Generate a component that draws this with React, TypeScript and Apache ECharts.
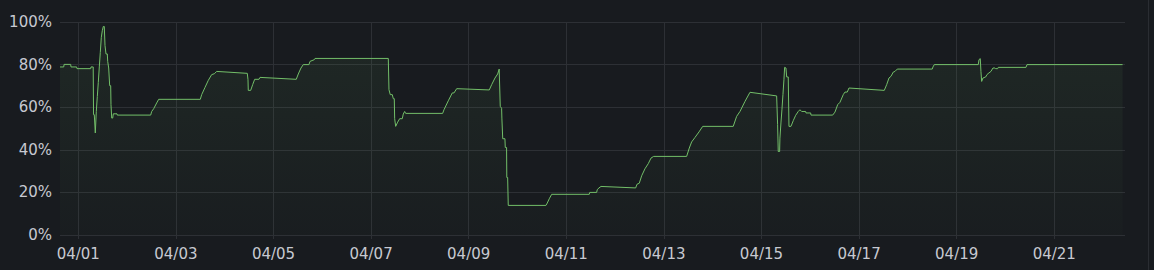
import React, { useEffect, useRef } from "react";
import * as echarts from "echarts";

const YEAR = 2024;

const times: string[] = [
  "03-31 15:00", "03-31 16:50", "03-31 17:00", "03-31 20:15", "03-31 20:25", "03-31 23:10", "03-31 23:22",
  "04-01 06:05", "04-01 06:15", "04-01 07:20", "04-01 07:30", "04-01 07:52", "04-01 08:22", "04-01 08:51",
  "04-01 09:21", "04-01 09:50", "04-01 10:20", "04-01 10:49", "04-01 11:19", "04-01 11:48", "04-01 12:18",
  "04-01 12:47", "04-01 13:08", "04-01 13:37", "04-01 14:16", "04-01 14:28", "04-01 14:57", "04-01 15:26",
  "04-01 15:56", "04-01 16:05", "04-01 16:26", "04-01 16:55", "04-01 17:13", "04-01 19:02", "04-01 19:11",
  "04-02 11:36", "04-02 12:06", "04-02 13:05", "04-02 14:33", "04-02 15:32",
  "04-03 12:00", "04-03 12:41", "04-03 14:19", "04-03 15:56", "04-03 17:36", "04-03 18:53", "04-03 20:04",
  "04-04 11:07", "04-04 11:28", "04-04 11:36", "04-04 12:47", "04-04 13:46", "04-04 14:45", "04-04 16:52", "04-04 17:22",
  "04-05 11:12", "04-05 12:12", "04-05 13:31", "04-05 14:39", "04-05 17:27", "04-05 17:57", "04-05 20:04", "04-05 20:25",
  "04-07 08:28", "04-07 08:48", "04-07 09:26", "04-07 10:26", "04-07 10:55", "04-07 11:25", "04-07 11:36",
  "04-07 12:06", "04-07 13:05", "04-07 14:04", "04-07 15:20", "04-07 15:50", "04-07 16:31", "04-07 17:00",
  "04-08 11:12", "04-08 11:51", "04-08 13:58", "04-08 15:56", "04-08 16:46", "04-08 18:06",
  "04-09 10:08", "04-09 11:19", "04-09 12:56", "04-09 14:16", "04-09 15:00", "04-09 15:32", "04-09 16:12",
  "04-09 16:20", "04-09 16:38", "04-09 16:45", "04-09 17:50", "04-09 18:00", "04-09 18:38", "04-09 18:45",
  "04-09 19:10", "04-09 19:28",
  "04-10 14:00", "04-10 14:39", "04-10 15:38", "04-10 16:49",
  "04-11 11:18", "04-11 11:33", "04-11 14:57", "04-11 15:14", "04-11 16:05", "04-11 17:04",
  "04-12 10:08", "04-12 10:46", "04-12 11:54", "04-12 13:05", "04-12 14:42", "04-12 16:20", "04-12 17:40", "04-12 18:58",
  "04-13 11:12", "04-13 12:30", "04-13 13:40", "04-13 15:18", "04-13 17:17", "04-13 19:06",
  "04-14 10:07", "04-14 11:48", "04-14 13:26", "04-14 15:53", "04-14 18:21",
  "04-15 07:28", "04-15 07:57", "04-15 08:15", "04-15 08:56", "04-15 09:05", "04-15 09:35", "04-15 10:04",
  "04-15 10:34", "04-15 11:03", "04-15 11:24", "04-15 12:03", "04-15 12:24", "04-15 13:11", "04-15 13:32",
  "04-15 14:31", "04-15 15:39", "04-15 16:50", "04-15 18:06", "04-15 18:56", "04-15 19:46", "04-15 21:44", "04-15 21:53",
  "04-16 00:12", "04-16 00:21", "04-16 11:01", "04-16 12:09", "04-16 13:29", "04-16 14:37", "04-16 16:14",
  "04-16 17:04", "04-16 18:12", "04-16 19:02",
  "04-17 12:24", "04-17 13:35", "04-17 14:43", "04-17 15:42", "04-17 16:50", "04-17 17:40", "04-17 18:48",
  "04-18 12:00", "04-18 12:21", "04-18 13:00",
  "04-19 10:38", "04-19 10:59", "04-19 11:37", "04-19 11:57", "04-19 12:18", "04-19 12:56", "04-19 14:16",
  "04-19 14:54", "04-19 15:53", "04-19 16:52", "04-19 17:51", "04-19 18:50", "04-19 19:11", "04-19 20:10", "04-19 20:29",
  "04-20 10:06", "04-20 10:36", "04-22 09:36",
];

const values: number[] = [
  78.9, 78.9, 80.1, 80.1, 78.9, 78.9, 78.1,
  78.1, 78.9, 78.9, 56.5, 56.5, 47.9, 58,
  65, 71.6, 78.9, 85.7, 92.8, 95.9, 97.9,
  97.9, 89, 85, 85, 81.5, 78.4, 70.1,
  70.1, 61.2, 54.9, 54.9, 56.9, 56.9, 56.3,
  56.3, 58, 59.3, 62, 63.7,
  63.7, 65.9, 69.3, 72.6, 75.3, 75.7, 76.8,
  75.9, 72.9, 67.9, 67.9, 70.6, 73.1, 73.1, 74.0,
  73.1, 75.6, 78.4, 80, 80, 81.5, 82.3, 82.9,
  82.9, 68.2, 65.9, 65.9, 64, 64, 54.6,
  51, 53, 54.6, 54.6, 56.8, 58, 57.1,
  57.1, 58.8, 63, 66.7, 66.7, 68.7,
  68.1, 70.6, 73.7, 75.6, 77.9, 60.4, 59.5,
  54.9, 54.9, 45.2, 45.2, 41.1, 41.1, 27,
  27, 13.9,
  13.9, 15, 17, 19.1,
  19.1, 20, 20, 21.3, 22.1, 22.8,
  22.1, 23.8, 24.3, 27.8, 31.1, 33.5, 36.1, 36.9,
  36.9, 40.8, 43.7, 45.8, 48.4, 51,
  51, 55.7, 58, 62.7, 67,
  65.3, 51.8, 39.2, 39.2, 45.5, 52.6, 58.8,
  65.9, 72.9, 78.7, 78.4, 74.2, 74.2, 51,
  51, 53.7, 56.2, 58, 58.8, 58, 58, 57.3,
  57.3, 56.3, 56.3, 57.7, 61.2, 62.3, 65.9,
  67.1, 67.1, 69,
  67.9, 70.6, 73.7, 74.5, 76.5, 76.8, 77.9,
  77.9, 78.9, 80,
  80, 82.3, 82.8, 76.8, 72.1, 73.7, 74.2,
  75.3, 76.1, 76.8, 78.4, 78.4, 78.1, 78.1, 78.7,
  78.7, 80, 80,
];

const xTickLabels: string[] = ["04/01", "04/03", "04/05", "04/07", "04/09", "04/11", "04/13", "04/15", "04/17", "04/19", "04/21"];
const rangeStart = "03-31 15:00";
const rangeEnd = "04-22 10:48";

const BG = "#181b1f";
const GRID = "#2d3035";
const TEXT = "#c7c9d1";
const LINE = "#73bf69";

function toMs(s: string): number {
  const [md, hm] = s.split(" ");
  const [m, d] = md.split("-").map(Number);
  const [H, M] = (hm || "00:00").split(":").map(Number);
  return Date.UTC(YEAR, m - 1, d, H, M);
}
function labelToMs(l: string): number {
  const [m, d] = l.split("/").map(Number);
  return Date.UTC(YEAR, m - 1, d);
}

export default function App() {
  const ref = useRef<HTMLDivElement>(null);
  useEffect(() => {
    document.body.style.margin = "0";
    document.body.style.background = BG;
    const chart = echarts.init(ref.current!, null, { renderer: "svg" });
    const tickValues = xTickLabels.map(labelToMs);
    const data = times.map((t, i) => [toMs(t), values[i]]);
    chart.setOption({
      animation: false,
      backgroundColor: BG,
      textStyle: { fontFamily: "DejaVu Sans" },
      grid: { left: 60, right: 29, top: 22, bottom: 35 },
      xAxis: {
        type: "value",
        min: toMs(rangeStart),
        max: toMs(rangeEnd),
        axisLine: { show: false },
        axisTick: { show: true, customValues: tickValues, length: 4, lineStyle: { color: GRID } },
        axisLabel: {
          customValues: tickValues,
          formatter: (v: number) => {
            const i = tickValues.indexOf(v);
            return i >= 0 ? xTickLabels[i] : "";
          },
          color: TEXT,
          fontSize: 15,
          margin: 11,
        },
        splitLine: { show: true, lineStyle: { color: GRID, width: 1 } },
      },
      yAxis: {
        type: "value",
        min: 0,
        max: 100,
        interval: 20,
        axisLine: { show: false },
        axisTick: { show: false },
        axisLabel: { formatter: "{value}%", color: TEXT, fontSize: 15, margin: 8 },
        splitLine: { show: true, lineStyle: { color: GRID, width: 1 } },
      },
      graphic: [
        { type: "rect", shape: { x: 1148, y: 0, width: 1, height: 270 }, style: { fill: "#2a2d32" } },
      ],
      series: [
        {
          type: "line",
          data,
          showSymbol: false,
          symbol: "none",
          lineStyle: { color: LINE, width: 1 },
          itemStyle: { color: LINE },
          areaStyle: {
            color: new echarts.graphic.LinearGradient(0, 0, 0, 1, [
              { offset: 0, color: "rgba(115,191,105,0.12)" },
              { offset: 1, color: "rgba(115,191,105,0.02)" },
            ]),
          },
        },
      ],
    });
    return () => chart.dispose();
  }, []);
  return <div ref={ref} style={{ position: "fixed", left: 0, top: 0, width: 1154, height: 270 }} />;
}
